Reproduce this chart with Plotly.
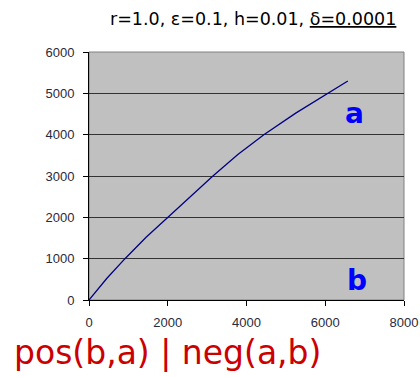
import plotly.graph_objects as go

# curve
x_vals = [0, 450, 914, 1450, 2005, 2570, 3147, 3780, 4440, 5250, 6066, 6574]
y_vals = [0, 520, 1000, 1520, 2000, 2500, 3000, 3520, 4000, 4520, 5000, 5300]

x_ticks = [0, 2000, 4000, 6000, 8000]
y_ticks = [0, 1000, 2000, 3000, 4000, 5000, 6000]

title_text = "r=1.0, \u03b5=0.1, h=0.01, <u>\u03b4=0.0001</u>"
label_a = "<b>a</b>"
label_b = "<b>b</b>"
caption = "pos(b,a) | neg(a,b)"

fig = go.Figure()
fig.add_trace(go.Scatter(x=x_vals, y=y_vals, mode="lines",
                         line=dict(color="#000080", width=1.3), showlegend=False))

tick_font = dict(family="Liberation Sans, Arial", size=13, color="#2a2a3a")
fig.update_xaxes(range=[0, 8000], tickvals=x_ticks, showgrid=False, zeroline=False,
                 showline=True, linecolor="black", linewidth=1, mirror=False,
                 ticks="outside", ticklen=5, tickcolor="black", tickfont=tick_font,
                 ticklabelstandoff=5)
fig.update_yaxes(range=[0, 6000], tickvals=y_ticks, showgrid=True, gridcolor="#333",
                 gridwidth=1, zeroline=False, showline=True, linecolor="black",
                 linewidth=1, ticks="outside", ticklen=5, tickcolor="black",
                 tickfont=tick_font, ticklabelstandoff=6)

# plot area border (right and top) in grey
fig.add_shape(type="rect", xref="paper", yref="paper", x0=0, y0=0, x1=1, y1=1,
              line=dict(color="#808080", width=1), layer="below")

fig.add_annotation(x=6750, y=4520, text=label_a, showarrow=False,
                   font=dict(family="DejaVu Sans", size=28, color="#0000FF"))
fig.add_annotation(x=6800, y=460, text=label_b, showarrow=False,
                   font=dict(family="DejaVu Sans", size=28, color="#0000FF"))
fig.add_annotation(xref="paper", yref="paper", x=0.982, y=1.135, xanchor="right",
                   yanchor="middle", text=title_text, showarrow=False,
                   font=dict(family="DejaVu Sans", size=17.5, color="black"))
fig.add_annotation(xref="paper", yref="paper", x=-0.245, y=-0.212, xanchor="left",
                   yanchor="middle", text=caption, showarrow=False,
                   font=dict(family="DejaVu Sans", size=33, color="#CC0000"))

fig.update_layout(width=420, height=377, margin=dict(l=89, r=16, t=52, b=77, autoexpand=False),
                  plot_bgcolor="#C0C0C0", paper_bgcolor="white")
# drop the default page margin so the figure fills the window
fig.write_html("out.html", config={"displayModeBar": False},
               post_script="document.body.style.margin='0';")
